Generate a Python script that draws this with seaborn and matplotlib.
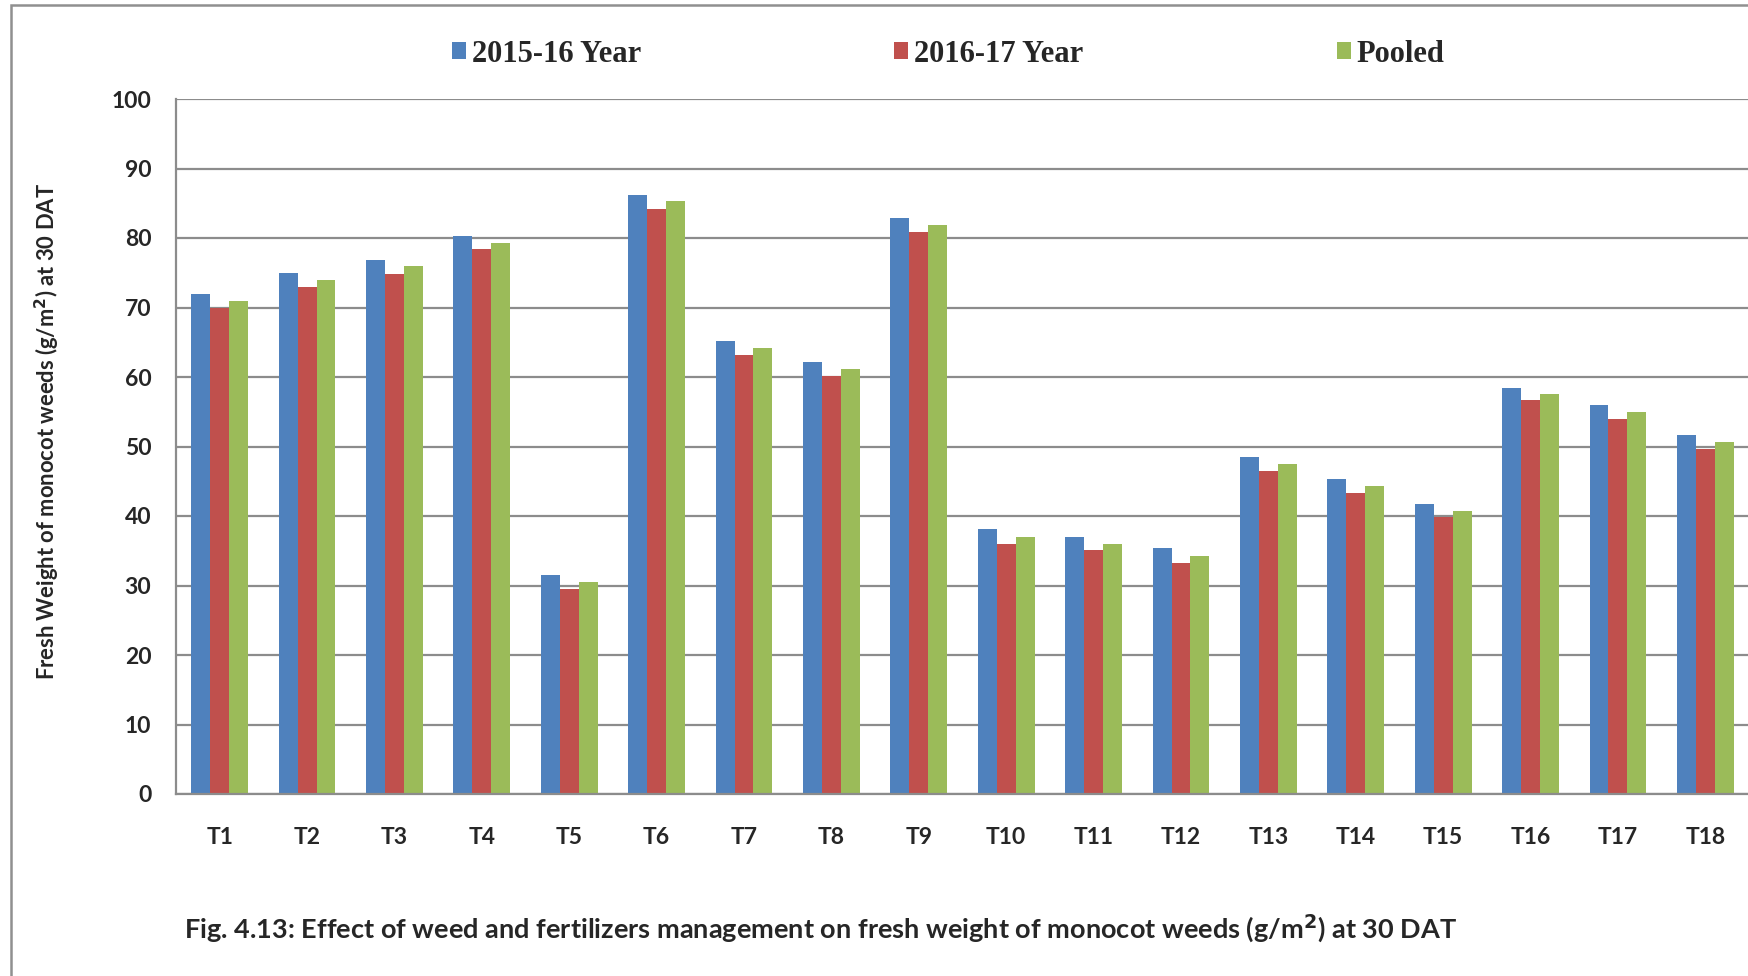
import pandas as pd
import matplotlib
matplotlib.use("Agg")
import matplotlib.pyplot as plt
import seaborn as sns
from matplotlib.patches import Rectangle

# Chart data
treatments = ["T1", "T2", "T3", "T4", "T5", "T6", "T7", "T8", "T9",
              "T10", "T11", "T12", "T13", "T14", "T15", "T16", "T17", "T18"]
year_2015_16 = [71.9, 74.9, 76.8, 80.3, 31.5, 86.2, 65.2, 62.1, 82.9,
                38.1, 37.0, 35.4, 48.5, 45.3, 41.7, 58.4, 55.9, 51.7]
year_2016_17 = [70.0, 72.9, 74.8, 78.4, 29.5, 84.2, 63.2, 60.1, 80.9,
                36.0, 35.1, 33.3, 46.5, 43.3, 39.8, 56.7, 54.0, 49.7]
pooled = [70.9, 73.9, 75.9, 79.3, 30.5, 85.3, 64.2, 61.1, 81.9,
          37.0, 36.0, 34.3, 47.5, 44.3, 40.7, 57.5, 54.9, 50.7]
series_names = ["2015-16 Year", "2016-17 Year", "Pooled"]
colors = ["#4F81BD", "#C0504D", "#9BBB59"]

df = pd.DataFrame({
    "Treatment": treatments * 3,
    "Series": [series_names[0]] * 18 + [series_names[1]] * 18 + [series_names[2]] * 18,
    "Value": year_2015_16 + year_2016_17 + pooled,
})

sns.set_style("white")
plt.rcParams["font.family"] = ["Lato", "DejaVu Sans"]

W, H = 1749, 976
fig = plt.figure(figsize=(W / 100, H / 100), dpi=100)
ax = fig.add_axes([176 / W, 1 - 794 / H, 1 - 176 / W, (794 - 99) / H])

sns.barplot(data=df, x="Treatment", y="Value", hue="Series",
            hue_order=series_names, palette=colors, width=0.65,
            linewidth=0, saturation=1, ax=ax)

grid_c = "#8c8c8c"
ax.set_ylim(0, 100)
ax.set_xlim(-0.5, 17.5)
ax.set_yticks(range(0, 101, 10))
ax.yaxis.grid(True, color=grid_c, linewidth=1.6)
ax.set_axisbelow(True)
for s in ["top", "right"]:
    ax.spines[s].set_visible(False)
for s in ["left", "bottom"]:
    ax.spines[s].set_color(grid_c)
    ax.spines[s].set_linewidth(1.6)

# tick marks between categories, labels at centers
ax.set_xticks([i - 0.5 for i in range(18)], minor=True)
ax.tick_params(axis="x", which="minor", length=6.5, width=1.2, color=grid_c, direction="out")
ax.tick_params(axis="x", which="major", length=0, pad=24, labelsize=16.5)
ax.tick_params(axis="y", length=5.8, width=1.2, color=grid_c, direction="out", pad=12, labelsize=16.5)
for lab in ax.get_xticklabels() + ax.get_yticklabels():
    lab.set_fontweight("bold")

ax.set_xlabel("")
ax.set_ylabel("Fresh Weight of monocot weeds (g/m$^\\mathbf{2}$) at 30 DAT",
              fontsize=15.8, fontweight="bold")
ax.yaxis.set_label_coords(62 / W, 1 - 432 / H, transform=fig.transFigure)

sns.move_legend(ax, "center left", bbox_to_anchor=(452 / W, 1 - 54 / H),
                bbox_transform=fig.transFigure, ncol=3, frameon=False, title=None,
                borderpad=0, borderaxespad=0, handlelength=0.46, handleheight=0.46,
                handletextpad=0.18, columnspacing=8.3,
                prop={"family": "Liberation Serif", "weight": "bold", "size": 22})

fig.text(184 / W, 1 - 928 / H,
         "Fig. 4.13: Effect of weed and fertilizers management on fresh weight of monocot weeds (g/m$^\\mathbf{2}$) at 30 DAT",
         fontsize=19.5, fontweight="bold", ha="left", va="center")

# outer chart frame (only left and top edges are visible)
fig.patches.append(Rectangle((11 / W, -0.1), 1.1, 1.1 - 5 / H, transform=fig.transFigure,
                             fill=False, edgecolor="#909090", linewidth=1.8))

fig.savefig("out.png", dpi=100)
